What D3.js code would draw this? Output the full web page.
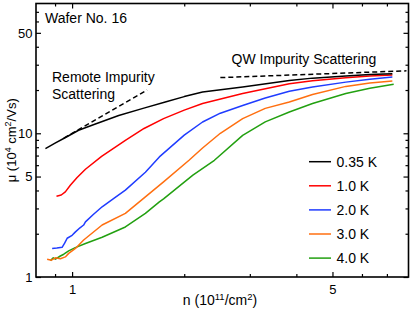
<!DOCTYPE html>
<html>
<head>
<meta charset="utf-8">
<script src="https://cdn.jsdelivr.net/npm/d3@7"></script>
<style>
  body { margin: 0; background: #fff; }
  text { font-family: "Liberation Sans", Arial, sans-serif; }
</style>
</head>
<body>
<div id="chart"></div>
<script>
// Mobility vs density
var nBlack  = [0.848, 0.90, 0.96, 1.041, 1.15, 1.334, 1.55, 1.779, 2.0, 2.24, 2.87, 3.83, 4.42, 5.43, 6.3, 7.24];
var muBlack = [7.83, 8.53, 9.35, 10.5, 11.55, 13.3, 14.9, 16.5, 18.0, 19.4, 21.0, 23.3, 24.2, 25.0, 25.6, 26.0];

var nRed  = [0.908, 0.935, 0.959, 0.989, 1.03, 1.086, 1.2, 1.39, 1.56, 1.76, 2.0, 2.24, 2.87, 3.83, 4.42, 5.43, 6.3, 7.24];
var muRed = [3.65, 3.72, 3.91, 4.35, 4.9, 5.62, 6.9, 8.94, 10.8, 12.65, 14.5, 16.1, 18.9, 22.1, 23.2, 24.3, 25.0, 25.4];

var nBlue  = [0.884, 0.91, 0.94, 0.955, 0.97, 1.0, 1.021, 1.05, 1.074, 1.086, 1.14, 1.204, 1.3, 1.39, 1.573, 1.715, 2.0, 2.24, 2.5, 2.87, 3.3, 3.83, 4.42, 5.43, 6.3, 7.24];
var muBlue = [1.58, 1.59, 1.61, 1.72, 1.86, 1.95, 2.06, 2.2, 2.30, 2.42, 2.72, 3.08, 3.55, 4.02, 5.36, 6.85, 9.7, 11.98, 13.8, 15.6, 17.6, 19.6, 21.0, 22.7, 23.8, 24.6];

var nOrange  = [0.857, 0.88, 0.902, 0.93, 0.959, 0.979, 1.0, 1.021, 1.074, 1.204, 1.39, 1.573, 1.76, 2.06, 2.24, 2.5, 2.87, 3.3, 3.83, 4.42, 5.43, 6.3, 7.24];
var muOrange = [1.33, 1.31, 1.36, 1.34, 1.38, 1.46, 1.52, 1.58, 1.81, 2.30, 2.77, 3.61, 4.59, 6.49, 7.9, 10.0, 12.65, 14.9, 16.5, 18.6, 21.2, 22.4, 23.1];

var nGreen  = [0.875, 0.89, 0.902, 0.93, 0.95, 0.979, 1.02, 1.086, 1.204, 1.39, 1.573, 1.715, 1.76, 2.11, 2.41, 2.87, 3.3, 3.83, 4.42, 5.43, 6.3, 7.3];
var muGreen = [1.30, 1.36, 1.33, 1.40, 1.44, 1.52, 1.60, 1.71, 1.89, 2.23, 2.77, 3.33, 3.5, 5.11, 6.49, 9.68, 12.0, 14.06, 16.1, 18.9, 20.6, 21.9];

var seriesLabels = ["0.35 K", "1.0 K", "2.0 K", "3.0 K", "4.0 K"];
var seriesColors = ["#000000", "#ff0000", "#1f3cff", "#ff6f10", "#22a010"];

// power-law guide lines (two end points each)
var remoteN = [0.95, 1.59], remoteMu = [9.26, 20.0];
var qwN = [2.5, 7.9], qwMu = [24.4, 27.2];

var xMajor = [1, 5], xMinor = [0.9, 2, 3, 4, 6, 7];
var yMajor = [1, 5, 10, 50], yMinor = [2, 3, 4, 6, 7, 8, 9, 20, 30, 40, 60, 70];

var svgWidth = 415, svgHeight = 310;
var plotLeft = 36, plotRight = 408.5, plotTop = 3.5, plotBottom = 277;

var svg = d3.select("#chart").append("svg")
  .attr("width", svgWidth)
  .attr("height", svgHeight);

var x = d3.scaleLog().domain([0.8, 8]).range([plotLeft, plotRight]);
var y = d3.scaleLog().domain([1, 80]).range([plotBottom, plotTop]);

var line = d3.line().x(d => x(d[0])).y(d => y(d[1]));

// curves (black drawn last so it sits on top)
var series = [
  [nBlack, muBlack], [nRed, muRed], [nBlue, muBlue], [nOrange, muOrange], [nGreen, muGreen]
];
for (var i = series.length - 1; i >= 0; i--) {
  svg.append("path")
    .datum(d3.zip(series[i][0], series[i][1]))
    .attr("fill", "none")
    .attr("stroke", seriesColors[i])
    .attr("stroke-width", 1.5)
    .attr("stroke-linejoin", "round")
    .attr("d", line);
}

// dashed guides
[[remoteN, remoteMu], [qwN, qwMu]].forEach(function(g) {
  svg.append("path")
    .datum(d3.zip(g[0], g[1]))
    .attr("fill", "none")
    .attr("stroke", "#000")
    .attr("stroke-width", 1.5)
    .attr("stroke-dasharray", "5,3")
    .attr("d", line);
});

// axes, ticks pointing inward on all four sides
function styleAxis(g) {
  g.select(".domain").remove();
  g.selectAll("line").attr("stroke", "#000").attr("stroke-width", 1.2);
  g.selectAll("text").attr("font-family", "Liberation Sans, Arial, sans-serif")
    .attr("font-size", 13).attr("fill", "#000");
}

svg.append("g").attr("transform", `translate(0,${plotBottom})`)
  .call(d3.axisBottom(x).tickValues(xMajor).tickSize(-5).tickPadding(8).tickFormat(d3.format("d")))
  .call(styleAxis);
svg.append("g").attr("transform", `translate(0,${plotBottom})`)
  .call(d3.axisBottom(x).tickValues(xMinor).tickSize(-3).tickFormat(""))
  .call(styleAxis);
svg.append("g").attr("transform", `translate(0,${plotTop})`)
  .call(d3.axisTop(x).tickValues(xMajor).tickSize(-5).tickFormat(""))
  .call(styleAxis);
svg.append("g").attr("transform", `translate(0,${plotTop})`)
  .call(d3.axisTop(x).tickValues(xMinor).tickSize(-3).tickFormat(""))
  .call(styleAxis);

svg.append("g").attr("transform", `translate(${plotLeft},0)`)
  .call(d3.axisLeft(y).tickValues(yMajor).tickSize(-5).tickPadding(3.5).tickFormat(d3.format("d")))
  .call(styleAxis);
svg.append("g").attr("transform", `translate(${plotLeft},0)`)
  .call(d3.axisLeft(y).tickValues(yMinor).tickSize(-3).tickFormat(""))
  .call(styleAxis);
svg.append("g").attr("transform", `translate(${plotRight},0)`)
  .call(d3.axisRight(y).tickValues(yMajor).tickSize(-5).tickFormat(""))
  .call(styleAxis);
svg.append("g").attr("transform", `translate(${plotRight},0)`)
  .call(d3.axisRight(y).tickValues(yMinor).tickSize(-3).tickFormat(""))
  .call(styleAxis);

// frame
svg.append("rect")
  .attr("x", plotLeft).attr("y", plotTop)
  .attr("width", plotRight - plotLeft).attr("height", plotBottom - plotTop)
  .attr("fill", "none").attr("stroke", "#000").attr("stroke-width", 1.6);

// axis titles
var xTitle = svg.append("text")
  .attr("x", 220).attr("y", 305)
  .attr("text-anchor", "middle")
  .attr("font-size", 14);
xTitle.append("tspan").text("n (10");
xTitle.append("tspan").attr("font-size", 9.5).attr("dy", -5).text("11");
xTitle.append("tspan").attr("dy", 5).text("/cm");
xTitle.append("tspan").attr("font-size", 9.5).attr("dy", -5).text("2");
xTitle.append("tspan").attr("dy", 5).text(")");

var yTitle = svg.append("text")
  .attr("transform", `translate(16,${(plotTop + plotBottom) / 2}) rotate(-90)`)
  .attr("text-anchor", "middle")
  .attr("font-size", 13);
yTitle.append("tspan").text("μ (10");
yTitle.append("tspan").attr("font-size", 9).attr("dy", -5).text("4");
yTitle.append("tspan").attr("dy", 5).text(" cm");
yTitle.append("tspan").attr("font-size", 9).attr("dy", -5).text("2");
yTitle.append("tspan").attr("dy", 5).text("/Vs)");

// annotations
svg.append("text").attr("x", 45).attr("y", 22.5).attr("font-size", 14).text("Wafer No. 16");
svg.append("text").attr("x", 52).attr("y", 81.5).attr("font-size", 14).text("Remote Impurity");
svg.append("text").attr("x", 52).attr("y", 98.5).attr("font-size", 14).text("Scattering");
svg.append("text").attr("x", 231.5).attr("y", 63.5).attr("font-size", 14).text("QW Impurity Scattering");

// legend
var legend = svg.append("g").attr("transform", "translate(309,161.7)");
seriesLabels.forEach(function(lab, i) {
  var row = legend.append("g").attr("transform", `translate(0,${i * 24.1})`);
  row.append("line").attr("x1", 0).attr("x2", 22).attr("y1", 0).attr("y2", 0)
    .attr("stroke", seriesColors[i]).attr("stroke-width", 1.5);
  row.append("text").attr("x", 27.5).attr("y", 5).attr("font-size", 14).text(lab);
});
</script>
</body>
</html>
